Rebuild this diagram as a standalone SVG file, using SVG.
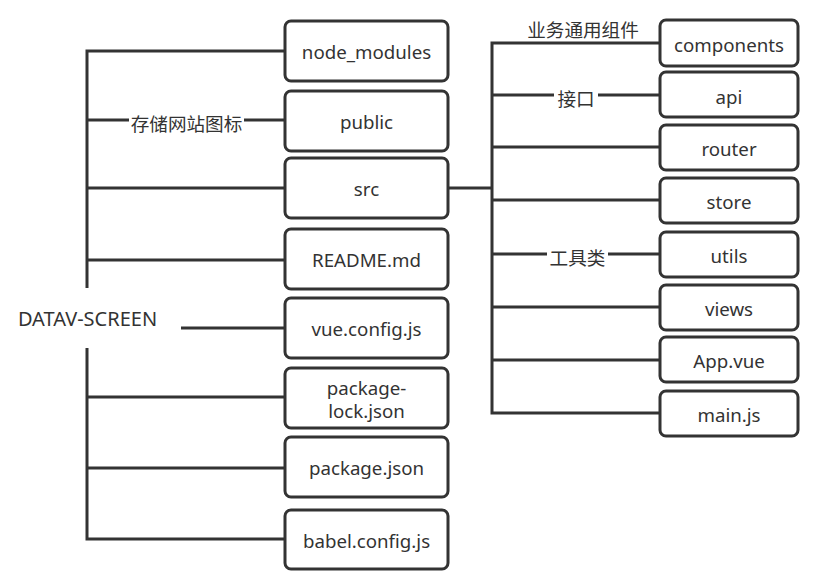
<svg xmlns="http://www.w3.org/2000/svg" width="823" height="586" viewBox="0 0 823 586">
<style>
.box{fill:#fff;stroke:#333;stroke-width:3}
.t{font-family:"Noto Sans","Open Sans","Noto Sans CJK SC",sans-serif;font-size:18.7px;fill:#333;text-anchor:middle;dominant-baseline:central}
.r{font-size:20px}
.c{font-family:"Noto Sans CJK SC","Noto Sans",sans-serif;font-size:18.6px;fill:#333;text-anchor:middle;dominant-baseline:central}
.ln{fill:none;stroke:#333;stroke-width:3}
</style>
<rect width="823" height="586" fill="#fff"/>
<g id="connectors">
<path class="ln" d="M87 288 V51 H285 M87 120 H129 M244 120 H285 M87 188 H285 M87 260 H285"/>
<path class="ln" d="M87 348 V539 H285 M87 397 H285 M87 468 H285"/>
<path class="ln" d="M181 328 H285"/>
<path class="ln" d="M448 188 H492"/>
<path class="ln" d="M660 43 H492 V413 H660 M492 95 H554 M598 95 H660 M492 147 H660 M492 200 H660 M492 254 H547 M608 254 H660 M492 307 H660 M492 360 H660"/>
<text class="c" x="186.5" y="122">存储网站图标</text>
<text class="c" x="583" y="28">业务通用组件</text>
<text class="c" x="576" y="97">接口</text>
<text class="c" x="577.5" y="256">工具类</text>
</g>
<g id="root"><text class="t r" x="87.5" y="318">DATAV-SCREEN</text></g>
<g id="node_modules"><rect class="box" x="285" y="21" width="163" height="60" rx="6"/><text class="t" x="366.5" y="51">node_modules</text></g>
<g id="public"><rect class="box" x="285" y="91" width="163" height="60" rx="6"/><text class="t" x="366.5" y="121">public</text></g>
<g id="src"><rect class="box" x="285" y="158" width="163" height="60" rx="6"/><text class="t" x="366.5" y="188">src</text></g>
<g id="readme"><rect class="box" x="285" y="229" width="163" height="60" rx="6"/><text class="t" x="366.5" y="259">README.md</text></g>
<g id="vueconfig"><rect class="box" x="285" y="298" width="163" height="60" rx="6"/><text class="t" x="366.5" y="328">vue.config.js</text></g>
<g id="packagelock"><rect class="box" x="285" y="368" width="163" height="60" rx="6"/><text class="t" x="366.5" y="387">package-</text><text class="t" x="366.5" y="410">lock.json</text></g>
<g id="packagejson"><rect class="box" x="285" y="437" width="163" height="60" rx="6"/><text class="t" x="366.5" y="467">package.json</text></g>
<g id="babel"><rect class="box" x="285" y="510" width="163" height="59" rx="6"/><text class="t" x="366.5" y="540">babel.config.js</text></g>
<g id="components"><rect class="box" x="660" y="20" width="138" height="46" rx="6"/><text class="t" x="729" y="44">components</text></g>
<g id="api"><rect class="box" x="660" y="72" width="138" height="45" rx="6"/><text class="t" x="729" y="96">api</text></g>
<g id="router"><rect class="box" x="660" y="125" width="138" height="45" rx="6"/><text class="t" x="729" y="148">router</text></g>
<g id="store"><rect class="box" x="660" y="178" width="138" height="45" rx="6"/><text class="t" x="729" y="201">store</text></g>
<g id="utils"><rect class="box" x="660" y="232" width="138" height="45" rx="6"/><text class="t" x="729" y="255">utils</text></g>
<g id="views"><rect class="box" x="660" y="285" width="138" height="45" rx="6"/><text class="t" x="729" y="308">views</text></g>
<g id="appvue"><rect class="box" x="660" y="337" width="138" height="45" rx="6"/><text class="t" x="729" y="360">App.vue</text></g>
<g id="mainjs"><rect class="box" x="660" y="391" width="138" height="45" rx="6"/><text class="t" x="729" y="414">main.js</text></g>
</svg>
